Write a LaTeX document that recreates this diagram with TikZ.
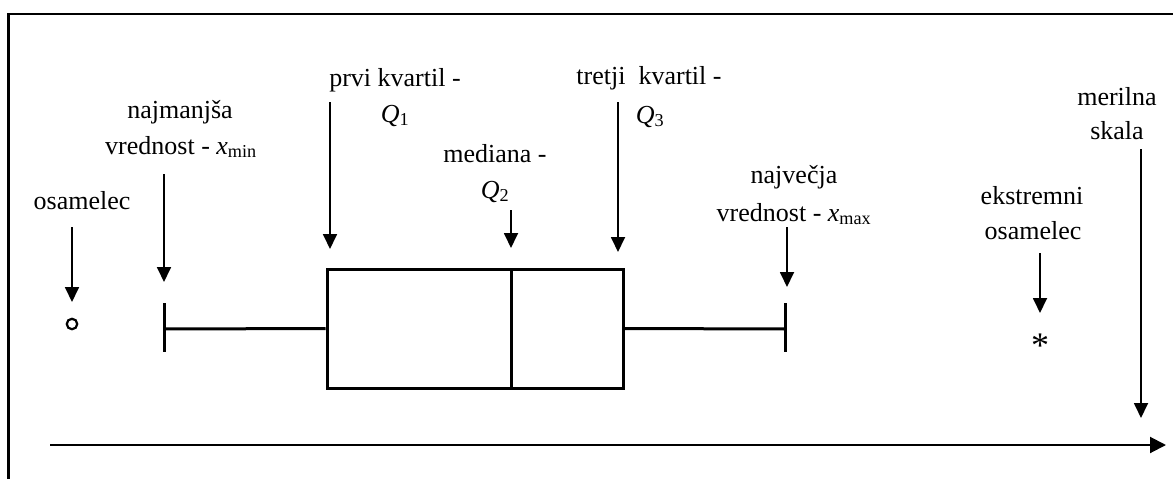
\documentclass[tikz,border=0pt]{standalone}
\usepackage{fontspec}
\setmainfont{Liberation Serif}
\usetikzlibrary{arrows.meta}
\begin{document}
\begin{tikzpicture}[x=1pt,y=-1pt,
  lbl/.style={anchor=base, inner sep=0pt, font=\fontsize{26}{36}\selectfont},
  conn/.style={-{Triangle[length=15pt,width=14pt]}, line width=1.8pt},
  axisline/.style={-{Triangle[length=16pt,width=16pt]}, line width=2pt},
  boxline/.style={line width=3pt},
  frameline/.style={line width=2.5pt}]
\useasboundingbox (0,0) rectangle (1173,479);
% frame (cropped)
\draw[frameline] (1180,14) -- (8.5,14) -- (8.5,485);

% box plot
\node[draw, boxline, minimum width=296pt, minimum height=119pt, inner sep=0pt] (box) at (475,328.5) {};
\coordinate (medtop) at (511,269);
\coordinate (medbot) at (511,388);
\draw[boxline] (medtop) -- (medbot);
\coordinate (mincap) at (164,329);
\coordinate (maxcap) at (785,329);
\draw[boxline] (box.west) -- (mincap);
\draw[boxline] (box.east) -- (maxcap);
\draw[boxline] (164,303) -- (164,352);
\draw[boxline] (785,303) -- (785,352);
\node[draw, circle, line width=2.2pt, minimum size=10.5pt, inner sep=0pt] (out) at (72,324) {};
\node[anchor=base, inner sep=0pt, font=\fontsize{36}{40}\selectfont] (ast) at (1040,357) {*};

% axis
\coordinate (ax0) at (50,445);
\coordinate (ax1) at (1166,445);
\draw[axisline] (ax0) -- (ax1);

% labels
\node[lbl] (osam) at (82,209) {osamelec};
\node[lbl] (min1) at (180,118) {najmanjša};
\node[lbl] (min2) at (181,154) {vrednost - \textit{x}\textsubscript{min}};
\node[lbl] (q1a) at (395,86) {prvi kvartil -};
\node[lbl] (q1b) at (395,122) {\textit{Q}\textsubscript{1}};
\node[lbl] (q2a) at (495,162) {mediana -};
\node[lbl] (q2b) at (495,198) {\textit{Q}\textsubscript{2}};
\node[lbl] (q3a) at (649,84) {tretji\ \ kvartil -};
\node[lbl] (q3b) at (650,123) {\textit{Q}\textsubscript{3}};
\node[lbl] (max1) at (794,183) {največja};
\node[lbl] (max2) at (794,221) {vrednost - \textit{x}\textsubscript{max}};
\node[lbl] (ex1) at (1032,204) {ekstremni};
\node[lbl] (ex2) at (1033,239) {osamelec};
\node[lbl] (sc1) at (1117,105) {merilna};
\node[lbl] (sc2) at (1117,139) {skala};

% arrows
\coordinate (a1s) at (72,227);   \coordinate (a1e) at (72,302);
\coordinate (a2s) at (164,174);  \coordinate (a2e) at (164,282);
\coordinate (a3s) at (330,102);  \coordinate (a3e) at (330,249);
\coordinate (a4s) at (511,210);  \coordinate (a4e) at (511,248);
\coordinate (a5s) at (618,102);  \coordinate (a5e) at (618,252);
\coordinate (a6s) at (787,227);  \coordinate (a6e) at (787,287);
\coordinate (a7s) at (1040,253); \coordinate (a7e) at (1040,313);
\coordinate (a8s) at (1141,149); \coordinate (a8e) at (1141,418);
\foreach \i in {1,...,8} \draw[conn] (a\i s) -- (a\i e);
\end{tikzpicture}
\end{document}
